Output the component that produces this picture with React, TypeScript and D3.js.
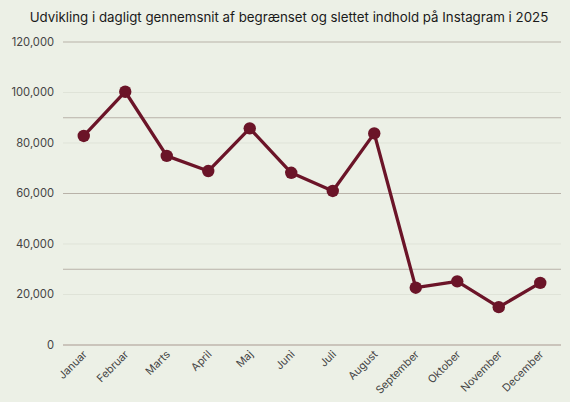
import React from "react";
import * as d3 from "d3";

const months = ["Januar","Februar","Marts","April","Maj","Juni","Juli","August","September","Oktober","November","December"];
const values = [82800, 100300, 74900, 68900, 85800, 68200, 61000, 83800, 22700, 25200, 15000, 24600];
const labelTicks = [0, 20000, 40000, 60000, 80000, 100000, 120000];
const majorGrid = [0, 30000, 60000, 90000, 120000];
const title = "Udvikling i dagligt gennemsnit af begrænset og slettet indhold på Instagram i 2025";

const W = 570, H = 402;
const left = 63, right = 561, top = 42, bottom = 345;

export default function App() {
  const x = d3.scaleBand<string>().domain(months).range([left, right]);
  const y = d3.scaleLinear().domain([0, 120000]).range([bottom, top]);
  const line = d3.line<number>()
    .x((_, i) => (x(months[i]) as number) + x.bandwidth() / 2)
    .y(d => y(d));
  const fmt = d3.format(",");
  const font = "Inter, 'DejaVu Sans', sans-serif";
  return (
    <svg width={W} height={H} style={{ position: "absolute", left: 0, top: 0, background: "#ECF0E6" }} fontFamily={font}>
      <rect width={W} height={H} fill="#ECF0E6" />
      <text x={W / 2 + 4} y={22} textAnchor="middle" fontSize={13.3} fill="#1a1a1a">{title}</text>
      {labelTicks.filter(t => !majorGrid.includes(t)).map(t => (
        <line key={"m" + t} x1={left} x2={right} y1={y(t)} y2={y(t)} stroke="#DFE3D8" strokeWidth={1} />
      ))}
      {majorGrid.map(t => (
        <line key={"g" + t} x1={left} x2={right} y1={y(t)} y2={y(t)} stroke={t === 0 ? "#A89890" : "#B8B2A8"} strokeWidth={1.2} />
      ))}
      {labelTicks.map(t => (
        <text key={"l" + t} x={54} y={y(t)} dy="0.35em" textAnchor="end" fontSize={11.2} fill="#444">{fmt(t)}</text>
      ))}
      {months.map(m => {
        const cx = (x(m) as number) + x.bandwidth() / 2 + 4;
        return (
          <text key={m} transform={`translate(${cx},${355}) rotate(-45)`} textAnchor="end" fontSize={10.8} fill="#444">{m}</text>
        );
      })}
      <path d={line(values) as string} fill="none" stroke="#6B1428" strokeWidth={3.3} strokeLinejoin="round" />
      {values.map((v, i) => (
        <circle key={i} cx={(x(months[i]) as number) + x.bandwidth() / 2} cy={y(v)} r={6.2} fill="#6B1428" />
      ))}
    </svg>
  );
}
